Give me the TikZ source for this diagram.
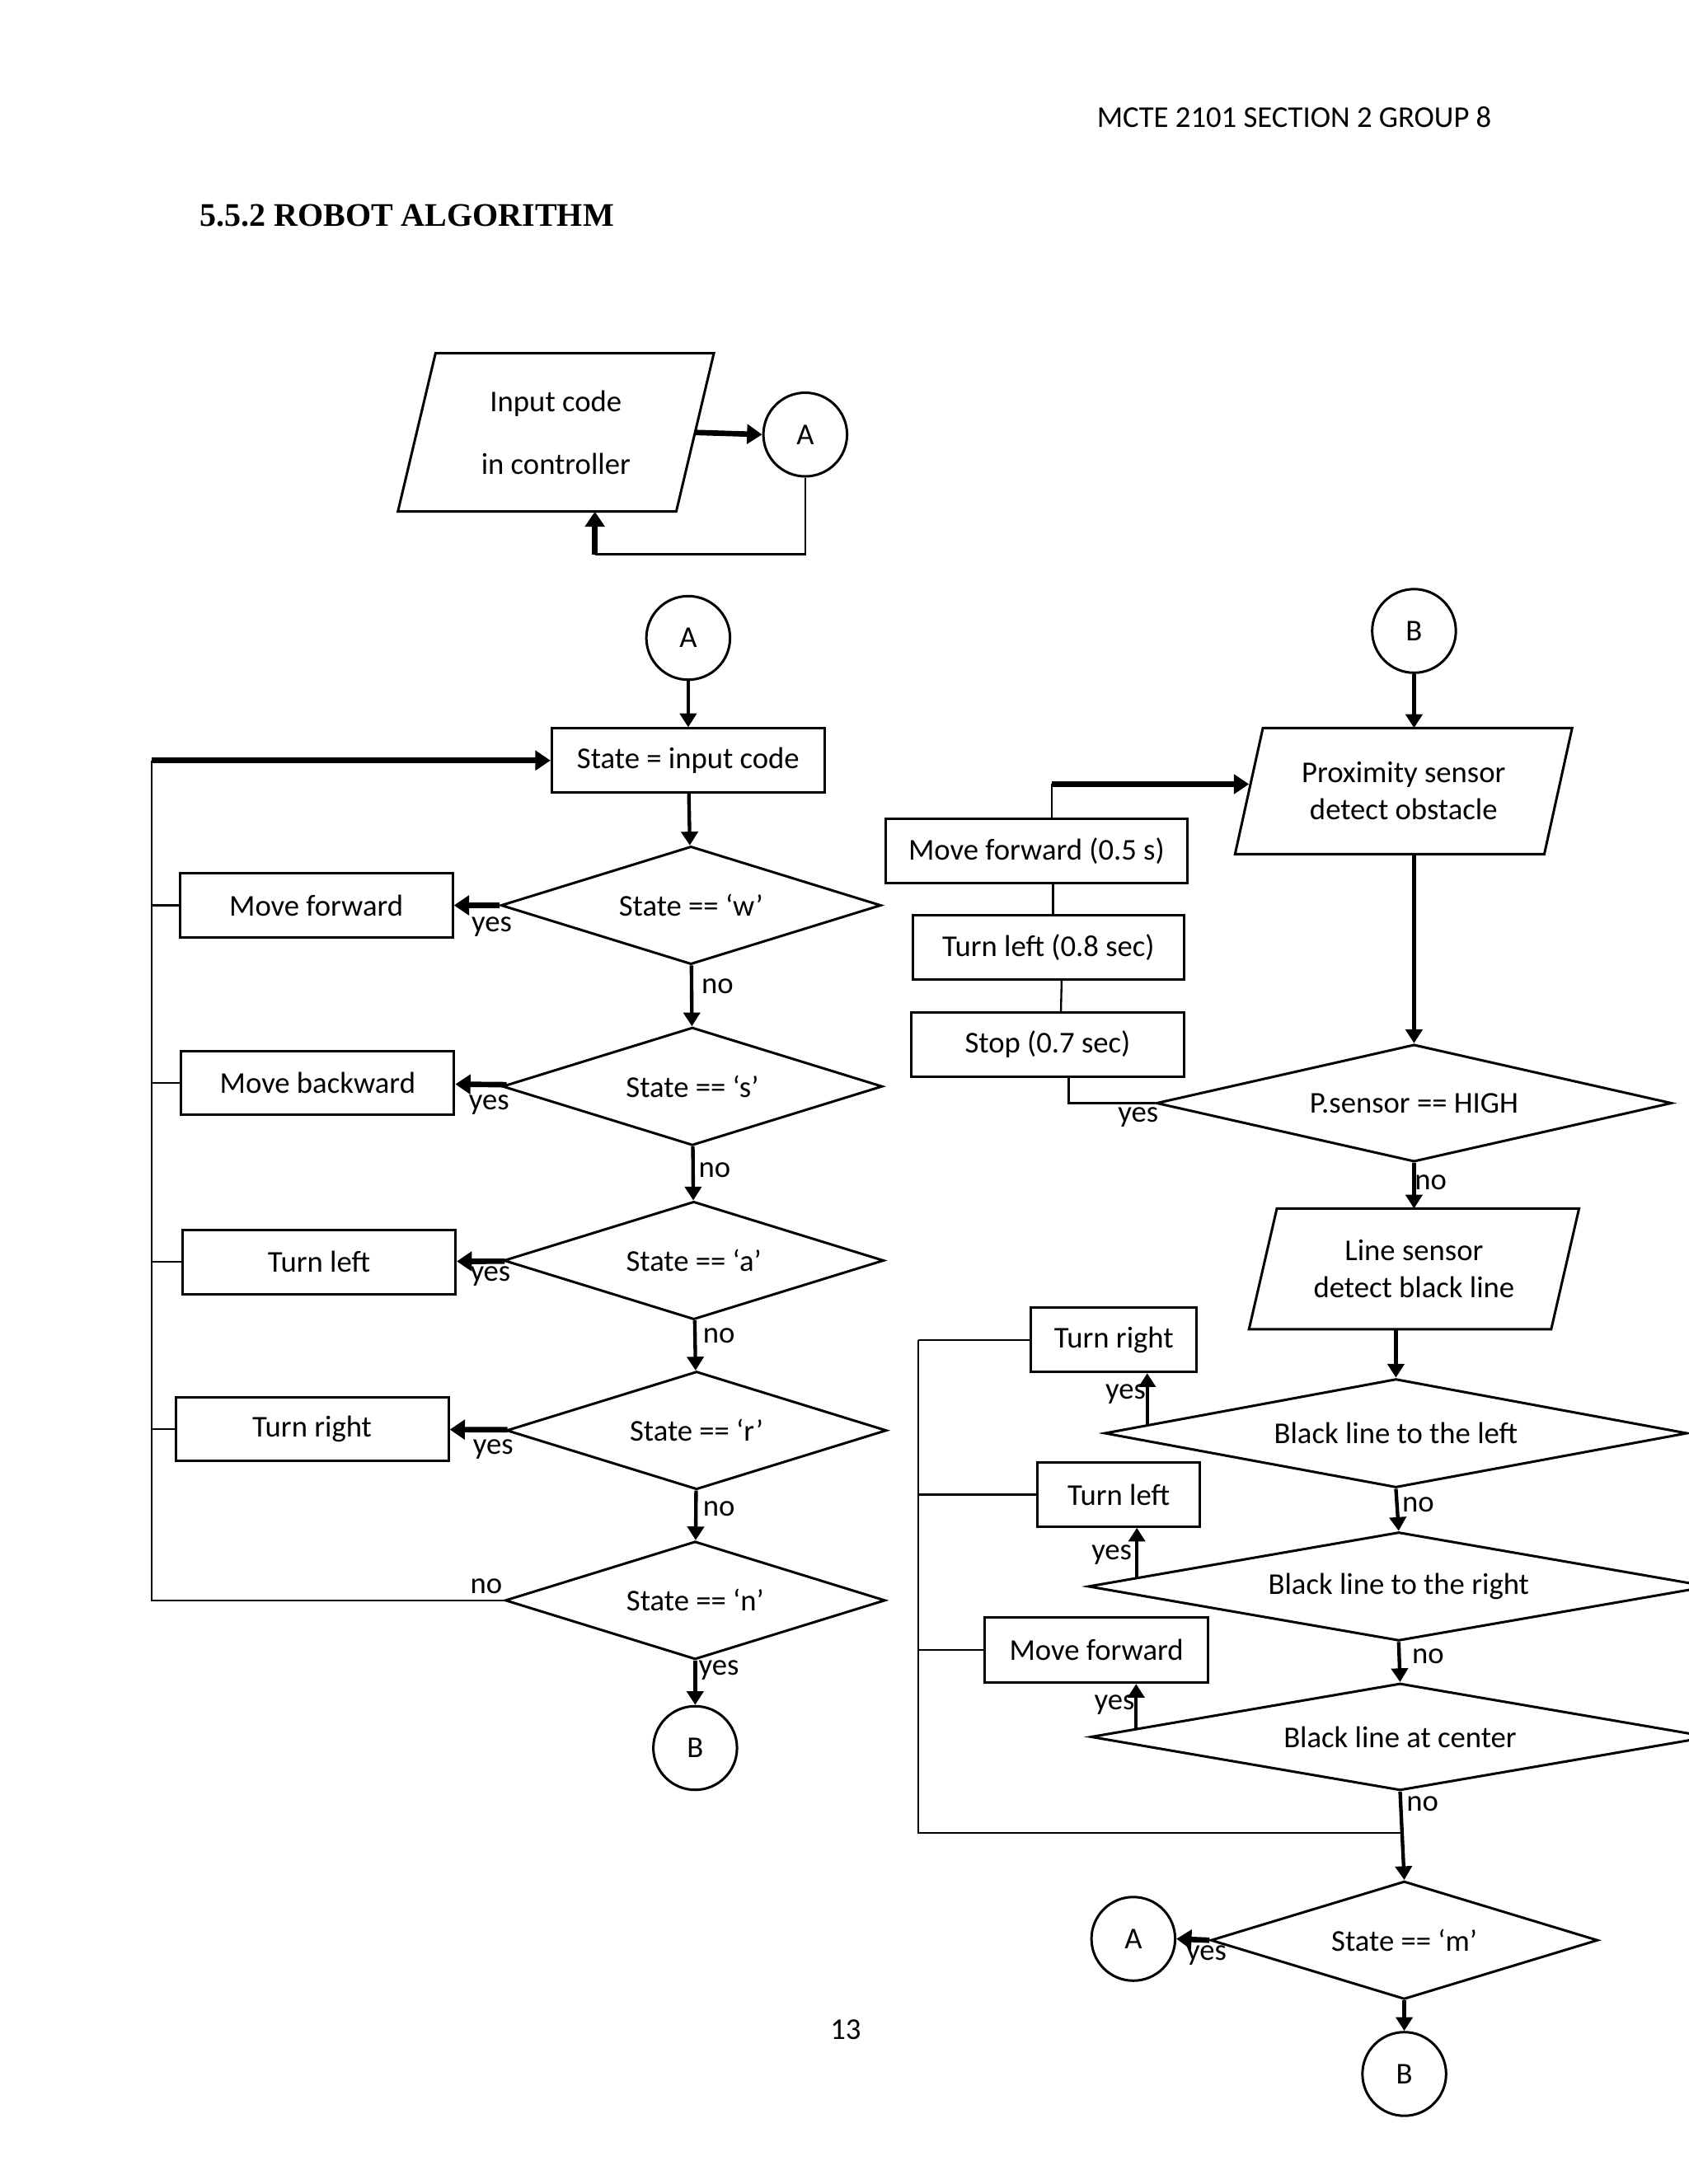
\documentclass[tikz,border=0pt]{standalone}
\usepackage{fontspec}
\setmainfont{Carlito}
\newfontfamily\titlefont{Liberation Serif}
\usetikzlibrary{shapes.geometric,arrows.meta,positioning,calc}

% slanted input/output frame around a named node (#2 = half the slant)
\newcommand{\ioframe}[2]{%
  \draw[line width=0.9pt] ($(#1.north west)+(#2,0)$) -- ($(#1.north east)+(#2,0)$)
    -- ($(#1.south east)-(#2,0)$) -- ($(#1.south west)-(#2,0)$) -- cycle;}

\begin{document}
\begin{tikzpicture}[
    x=0.17813cm, y=0.17813cm,
    every node/.style={font=\fontsize{11}{13.5}\selectfont},
    box/.style={rectangle, draw, line width=0.9pt, minimum width=3.49cm, minimum height=0.82cm, inner sep=0pt},
    io/.style={rectangle, inner sep=0pt, align=center},
    dec/.style={diamond, draw, aspect=4.5, line width=0.9pt, inner sep=0pt, minimum width=4.86cm, minimum height=1.51cm},
    conn/.style={circle, draw, line width=0.9pt, minimum size=1.07cm, inner sep=0pt},
    link/.style={line width=0.7pt},
    arr/.style={-{Triangle[length=5pt,width=6pt]}, line width=1.3pt},
    harr/.style={-{Triangle[length=5.5pt,width=7pt]}, line width=2pt},
    lbl/.style={inner sep=0pt},
]
\useasboundingbox (0,0) rectangle (121.2,156.8);

% Page header, title, page number
\node (head) at (92.9, 148.4) {MCTE 2101 SECTION 2 GROUP 8};
\node[anchor=west, inner sep=0pt, font=\titlefont\fontsize{12}{14}\selectfont\bfseries] (title) at (14.3, 141.3) {5.5.2 ROBOT ALGORITHM};
\node (pageno) at (60.7, 11.1) {13};

% Start: input code
\node[io, minimum width=3.545cm, minimum height=2.01cm, font=\fontsize{11}{22.8}\selectfont] (inp) at (39.9, 125.75) {Input code\\in controller};
\ioframe{inp}{1.35}
\node[conn] (a1) at (57.8, 125.6) {A};
\coordinate (ret) at (42.7, 117.0);
\draw[harr] (inp.east) -- (a1.west);
\draw[link] (a1.south) |- (ret);
\draw[harr] (ret) -- (ret |- inp.south);

% Left column: reading the state
\node[conn] (a2) at (49.4, 111.0) {A};
\node[box] (state) at (49.4, 102.2) {State = input code};
\node[dec] (dw) at (49.6, 91.8) {State == `w'};
\node[dec] (ds) at (49.7, 78.8) {State == `s'};
\node[dec] (da) at (49.8, 66.3) {State == `a'};
\node[dec] (dr) at (50.0, 54.1) {State == `r'};
\node[dec] (dn) at (49.9, 41.9) {State == `n'};
\node[conn] (b1) at (49.9, 31.3) {B};

\node[box] (fwd) at (22.7, 91.8) {Move forward};
\node[box] (back) at (22.8, 79.05) {Move backward};
\node[box] (left) at (22.9, 66.2) {Turn left};
\node[box] (right) at (22.4, 54.2) {Turn right};

% Edges: left column
\draw[arr] (a2) -- (state);
\draw[arr] (state) -- (dw);
\draw[arr] (dw) -- (ds);
\draw[arr] (ds) -- (da);
\draw[arr] (da) -- (dr);
\draw[arr] (dr) -- (dn);
\draw[arr] (dn) -- (b1);
\draw[harr] (dw) -- (fwd);
\draw[harr] (ds) -- (back);
\draw[harr] (da) -- (left);
\draw[harr] (dr) -- (right);

% Loop back to the state box
\coordinate (lbus) at (10.9, 41.9);
\draw[link] (dn.west) -- (lbus) -- (lbus |- state.west);
\draw[harr] (lbus |- state.west) -- (state.west);
\foreach \n in {fwd,back,left,right}
    \draw[link] (\n.west) -- (\n.west -| lbus);

% Labels: left column
\node[lbl] (yw) at (35.3, 90.25) {yes};
\node[lbl] (ys) at (35.1, 77.45) {yes};
\node[lbl] (ya) at (35.2, 65.15) {yes};
\node[lbl] (yr) at (35.4, 52.75) {yes};
\node[lbl] (nw) at (51.5, 86.0) {no};
\node[lbl] (ns) at (51.3, 72.8) {no};
\node[lbl] (na) at (51.6, 60.9) {no};
\node[lbl] (nr) at (51.6, 48.5) {no};
\node[lbl] (nn) at (34.9, 42.9) {no};
\node[lbl] (yn) at (51.6, 36.9) {yes};

% Right column: obstacle check
\node[conn] (b2) at (101.5, 111.5) {B};
\node[io, minimum width=3.94cm, minimum height=1.60cm] (prox) at (100.75, 100.0) {Proximity sensor\\detect obstacle};
\ioframe{prox}{1.0}
\node[dec, minimum width=6.59cm, minimum height=1.50cm] (dp) at (101.5, 77.6) {P.sensor == HIGH};
\node[box, minimum width=3.85cm] (fwd5) at (74.4, 95.7) {Move forward (0.5 s)};
\node[box, minimum width=3.47cm] (left8) at (75.25, 88.8) {Turn left (0.8 sec)};
\node[box] (stop7) at (75.2, 81.8) {Stop (0.7 sec)};

\draw[arr] (b2.south) -- (b2.south |- prox.north);
\draw[arr] (prox.south -| dp.north) -- (dp.north);
\draw[link] (dp.west) -| ([xshift=0.27cm]stop7.south);
\draw[link] ([xshift=0.17cm]stop7.north) -- ([xshift=0.17cm]left8.south);
\draw[link] ([xshift=0.06cm]left8.north) -- ([xshift=0.06cm]left8.north |- fwd5.south);
\coordinate (up) at (75.5, 100.5);
\draw[link] (up |- fwd5.north) -- (up);
\draw[harr] (up) -- (up -| prox.west);

% Right column: line following
\node[io, minimum width=3.85cm, minimum height=1.53cm] (line) at (101.5, 65.7) {Line sensor\\detect black line};
\ioframe{line}{1.0}
\node[dec, minimum width=7.45cm, minimum height=1.39cm] (dl) at (100.2, 53.9) {Black line to the left};
\node[dec, minimum width=7.94cm, minimum height=1.39cm] (drt) at (100.4, 42.9) {Black line to the right};
\node[dec, minimum width=7.91cm, minimum height=1.37cm] (dc) at (100.5, 32.1) {Black line at center};
\node[dec, minimum width=4.95cm] (dm) at (100.8, 17.5) {State == `m'};
\node[conn] (a3) at (81.35, 17.6) {A};
\node[conn] (b3) at (100.8, 7.9) {B};
\node[box, minimum width=2.12cm] (right2) at (79.95, 60.6) {Turn right};
\node[box, minimum width=2.07cm] (left2) at (80.3, 49.5) {Turn left};
\node[box, minimum width=2.85cm, minimum height=0.84cm] (fwd2) at (78.7, 38.35) {Move forward};

\draw[arr] (dp.south) -- (dp.south |- line.north);
\draw[arr] (line.south -| dl.north) -- (dl.north);
\draw[arr] (dl.south) -- (drt.north);
\draw[arr] (drt.south) -- (dc.north);
\draw[arr] (dc.south) -- (dm.north);
\draw[arr] (dm.south) -- (b3.north);
\draw[harr] (dm.west) -- (a3.east);

\coordinate (yl) at ($(dl.west)!0.15!(dl.north)$);
\coordinate (yrt) at ($(drt.west)!0.16!(drt.north)$);
\coordinate (yc) at ($(dc.west)!0.15!(dc.north)$);
\draw[arr] (yl) -- (yl |- right2.south);
\draw[arr] (yrt) -- (yrt |- left2.south);
\draw[arr] (yc) -- (yc |- fwd2.south);

\coordinate (rbus) at (65.9, 25.2);
\draw[link] (rbus |- right2.west) -- (rbus) -- (rbus -| dc.south);
\foreach \n in {right2,left2,fwd2}
    \draw[link] (\n.west) -- (\n.west -| rbus);

% Labels: right column
\node[lbl] (yp) at (81.7, 76.6) {yes};
\node[lbl] (np) at (102.7, 71.9) {no};
\node[lbl] (yll) at (80.8, 56.7) {yes};
\node[lbl] (nll) at (101.8, 48.8) {no};
\node[lbl] (yrr) at (79.8, 45.2) {yes};
\node[lbl] (nrr) at (102.5, 37.9) {no};
\node[lbl] (ycc) at (80.0, 34.4) {yes};
\node[lbl] (ncc) at (102.1, 27.3) {no};
\node[lbl] (ymm) at (86.6, 16.4) {yes};
\end{tikzpicture}
\end{document}
